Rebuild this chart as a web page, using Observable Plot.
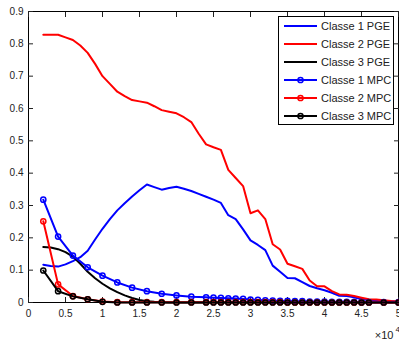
<!DOCTYPE html>
<html><head><meta charset="utf-8">
<script src="https://cdn.jsdelivr.net/npm/d3@7"></script>
<script src="https://cdn.jsdelivr.net/npm/@observablehq/plot@0.6"></script>
<style>
body{margin:0;background:#fff;}
#wrap{position:relative;width:399px;height:343px;}
#legend{position:absolute;left:278px;top:16px;width:116px;height:109px;border:1px solid #000;background:#fff;box-sizing:border-box;font:11px "Liberation Sans",Arial,sans-serif;color:#222;}
.row{position:absolute;left:0;height:18px;width:114px;}
.row svg{position:absolute;left:0;top:0;}
.row span{position:absolute;left:42px;top:2px;line-height:14px;white-space:nowrap;}
</style>
</head><body>
<div id="wrap"><div id="chart"></div><div id="legend"></div></div>
<script>
// PGE curves (x in units of 10^4)
const pgeX = [0.2,0.3,0.4,0.5,0.6,0.7,0.8,0.9,1.0,1.1,1.2,1.3,1.4,1.5,1.6,1.7,1.8,1.9,2.0,2.1,2.2,2.3,2.4,2.5,2.6,2.7,2.8,2.9,3.0,3.1,3.2,3.3,3.4,3.5,3.6,3.7,3.8,3.9,4.0,4.1,4.2,4.3,4.4,4.5,4.6,4.7,4.8,4.9,5.0];
const pge1 = [0.117,0.113,0.111,0.118,0.128,0.14,0.16,0.195,0.228,0.258,0.285,0.307,0.328,0.347,0.365,0.357,0.349,0.354,0.358,0.352,0.345,0.336,0.327,0.318,0.308,0.27,0.258,0.226,0.192,0.178,0.162,0.114,0.095,0.076,0.075,0.063,0.051,0.044,0.038,0.03,0.021,0.02,0.016,0.01,0.008,0.006,0.005,0.004,0.003];
const pge2 = [0.828,0.828,0.828,0.82,0.812,0.795,0.772,0.738,0.700,0.676,0.652,0.638,0.626,0.622,0.618,0.607,0.595,0.59,0.585,0.573,0.558,0.522,0.489,0.48,0.472,0.41,0.385,0.36,0.276,0.285,0.258,0.18,0.164,0.12,0.112,0.104,0.068,0.05,0.05,0.035,0.025,0.024,0.02,0.015,0.01,0.009,0.007,0.005,0.004];
const pge3 = [0.172,0.170,0.165,0.156,0.142,0.12,0.095,0.075,0.058,0.044,0.032,0.022,0.014,0.008,0.004,0.002,0.001,0,0,0,0,0,0,0,0,0,0,0,0,0,0,0,0,0,0,0,0,0,0,0,0,0,0,0,0,0,0,0,0];
// MPC curves
const mpcX = [0.2,0.4,0.6,0.8,1.0,1.2,1.4,1.6,1.8,2.0,2.2,2.4,2.5,2.6,2.7,2.8,2.9,3.0,3.1,3.2,3.3,3.4,3.5,3.6,3.7,3.8,3.9,4.0,4.1,4.2,4.3,4.4,4.5,4.6,4.8,5.0];
const mpc1 = [0.318,0.204,0.145,0.109,0.083,0.062,0.046,0.035,0.027,0.022,0.018,0.016,0.015,0.014,0.013,0.012,0.011,0.009,0.008,0.007,0.006,0.005,0.005,0.004,0.004,0.003,0.003,0.003,0.002,0.002,0.002,0.002,0.001,0.001,0.001,0.001];
const mpc2 = [0.251,0.056,0.02,0.01,0.003,0.001,0.001,0.001,0.001,0.001,0.001,0.001,0.001,0.001,0.001,0.001,0.001,0.001,0.001,0.001,0.001,0.001,0,0,0,0,0,0,0,0,0,0,0,0,0,0];
const mpc3 = [0.099,0.035,0.019,0.01,0.002,0,0,0,0,0,0,0,0,0,0,0,0,0,0,0,0,0,0,0,0,0,0,0,0,0,0,0,0,0,0,0];
const xTicks = [0,0.5,1,1.5,2,2.5,3,3.5,4,4.5,5];
const yTicks = [0,0.1,0.2,0.3,0.4,0.5,0.6,0.7,0.8,0.9];
const seriesNames = ["Classe 1 PGE","Classe 2 PGE","Classe 3 PGE","Classe 1 MPC","Classe 2 MPC","Classe 3 MPC"];
const colors = ["#0000ff","#ff0000","#000000"];

const toRows = (xs, ys) => xs.map((x, i) => ({x, y: ys[i]}));
const pge = [pge1, pge2, pge3].map(ys => toRows(pgeX, ys));
const mpc = [mpc1, mpc2, mpc3].map(ys => toRows(mpcX, ys));

const marks = [
  Plot.frame({stroke: "#000"}),
  Plot.axisX({ticks: xTicks, tickSize: 0, tickPadding: 7, label: null, tickFormat: d => String(d)}),
  Plot.axisX({ticks: xTicks, anchor: "bottom", tickSize: 5, text: null, dy: -5, label: null}),
  Plot.axisX({ticks: xTicks, anchor: "top", tickSize: 5, text: null, dy: 5, label: null}),
  Plot.axisY({ticks: yTicks, tickSize: 0, tickPadding: 5, label: null, tickFormat: d => String(d)}),
  Plot.axisY({ticks: yTicks, anchor: "left", tickSize: 5, text: null, dx: 5, label: null}),
  Plot.axisY({ticks: yTicks, anchor: "right", tickSize: 5, text: null, dx: -5, label: null})
];
pge.forEach((rows, i) => marks.push(Plot.line(rows, {x: "x", y: "y", stroke: colors[i], strokeWidth: 2})));
mpc.forEach((rows, i) => {
  marks.push(Plot.line(rows, {x: "x", y: "y", stroke: colors[i], strokeWidth: 2}));
  marks.push(Plot.dot(rows, {x: "x", y: "y", stroke: colors[i], strokeWidth: 1.5, r: 2.6, fill: "none"}));
});
marks.push(Plot.text(["×10"], {text: d => d, frameAnchor: "bottom-right", textAnchor: "end", dx: -5, dy: 36, fontSize: 11, fill: "#222"}));
marks.push(Plot.text(["4"], {text: d => d, frameAnchor: "bottom-right", textAnchor: "start", dx: -3, dy: 29, fontSize: 8, fill: "#222"}));

const chart = Plot.plot({
  width: 399, height: 343,
  marginLeft: 28, marginRight: 1, marginTop: 11, marginBottom: 41,
  x: {domain: [0, 5]},
  y: {domain: [0, 0.9]},
  style: {fontFamily: "'Liberation Sans', Arial, sans-serif", fontSize: "10px", color: "#222", background: "#fff", overflow: "visible"},
  marks
});
document.getElementById("chart").appendChild(chart);

// legend
const legend = d3.select("#legend");
seriesNames.forEach((name, i) => {
  const row = legend.append("div").attr("class", "row").style("top", (i * 18) + "px");
  const svg = row.append("svg").attr("width", 40).attr("height", 18);
  const c = colors[i % 3];
  svg.append("line").attr("x1", 5).attr("x2", 38).attr("y1", 9).attr("y2", 9).attr("stroke", c).attr("stroke-width", 2);
  if (i >= 3) svg.append("circle").attr("cx", 21.5).attr("cy", 9).attr("r", 2.6).attr("fill", "none").attr("stroke", c).attr("stroke-width", 1.5);
  row.append("span").text(name);
});
</script>
</body></html>
